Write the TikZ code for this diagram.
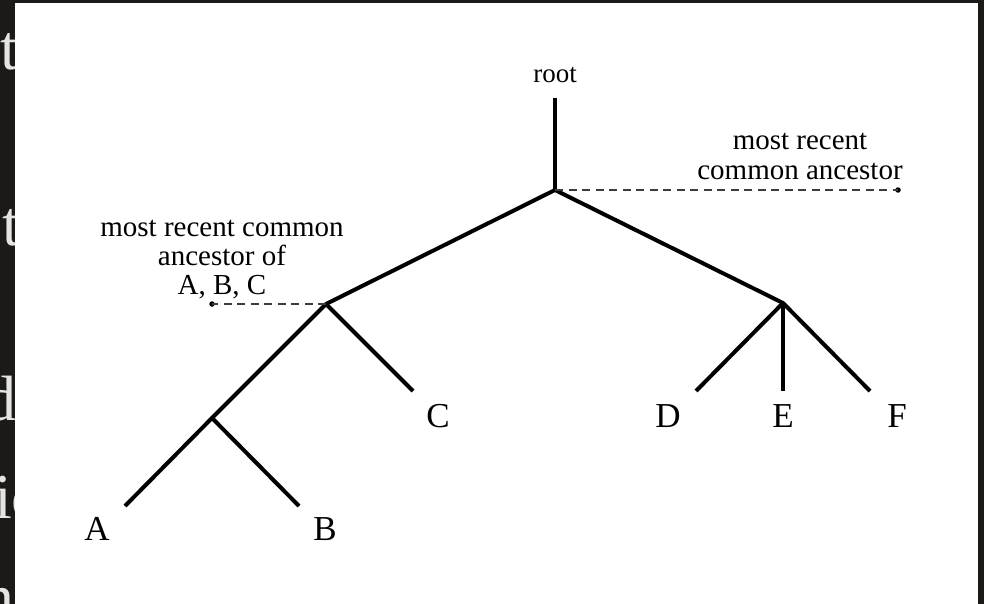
\documentclass[tikz,border=0pt]{standalone}
\usepackage{fontspec}
\setmainfont{Liberation Serif}
\definecolor{backdrop}{RGB}{28,26,24}
\definecolor{faintglyph}{RGB}{228,228,226}
\definecolor{pointergray}{RGB}{60,60,60}
\begin{document}
\begin{tikzpicture}[x=1pt,y=-1pt,
  branch/.style={line width=4pt,black,line join=round},
  pointer/.style={line width=1.3pt,draw=pointergray,dash pattern=on 8pt off 5.5pt},
  enddot/.style={circle,fill=black,inner sep=0pt,minimum size=5.5pt},
  leaf/.style={font=\fontsize{35}{35}\selectfont,inner sep=0pt,anchor=base},
  note/.style={font=\fontsize{29}{29}\selectfont,inner sep=0pt,anchor=base,align=center},
  ghost/.style={font=\fontsize{64}{64}\selectfont,text=faintglyph,inner sep=0pt,anchor=base west}]

% page frame
\useasboundingbox (0,0) rectangle (984,604);
\clip (0,0) rectangle (984,604);
\fill[backdrop] (0,0) rectangle (984,604);

% large text running underneath the sheet on the left
\node[ghost] (g1) at (0,70) {t};
\node[ghost] (g2) at (2,245) {t};
\node[ghost] (g3) at (-16,420) {d};
\node[ghost] (g4) at (-6,518) {ic};
\node[ghost] (g5) at (-18,618) {n};

% white sheet
\fill[white] (15,3) rectangle (978,604);

% tree vertices
\coordinate (top) at (555,98);
\coordinate (r) at (555,190);
\coordinate (abc) at (326,304);
\coordinate (def) at (783,303);
\coordinate (ab) at (212,418);
\coordinate (a) at (125,506);
\coordinate (b) at (299,506);
\coordinate (c) at (413,391);
\coordinate (d) at (696,391);
\coordinate (e) at (783,391);
\coordinate (f) at (870,391);

% branches
\draw[branch] (top) -- (r);
\draw[branch] (abc) -- (r) -- (def);
\draw[branch] (ab) -- (abc) -- (c);
\draw[branch] (a) -- (ab) -- (b);
\draw[branch] (d) -- (def) -- (f);
\draw[branch] (def) -- (e);

% pointers to the ancestors
\node[enddot] (rdot) at (898,190) {};
\draw[pointer] (r) -- (rdot.center);
\node[enddot] (abcdot) at (212,304) {};
\draw[pointer] (abc) -- (abcdot.center);

% labels (base anchor sits on the last line)
\node[note,font=\fontsize{27}{27}\selectfont] (rootlbl) at (555,83) {root};
\node[note] (mrca) at (800,179) {most recent\\common ancestor};
\node[note] (mrcaabc) at (222,294) {most recent common\\ancestor of\\A, B, C};

\node[leaf] (A) at (97,540) {A};
\node[leaf] (B) at (325,540) {B};
\node[leaf] (C) at (438,427) {C};
\node[leaf] (D) at (668,427) {D};
\node[leaf] (E) at (783,427) {E};
\node[leaf] (F) at (897,427) {F};
\end{tikzpicture}
\end{document}
